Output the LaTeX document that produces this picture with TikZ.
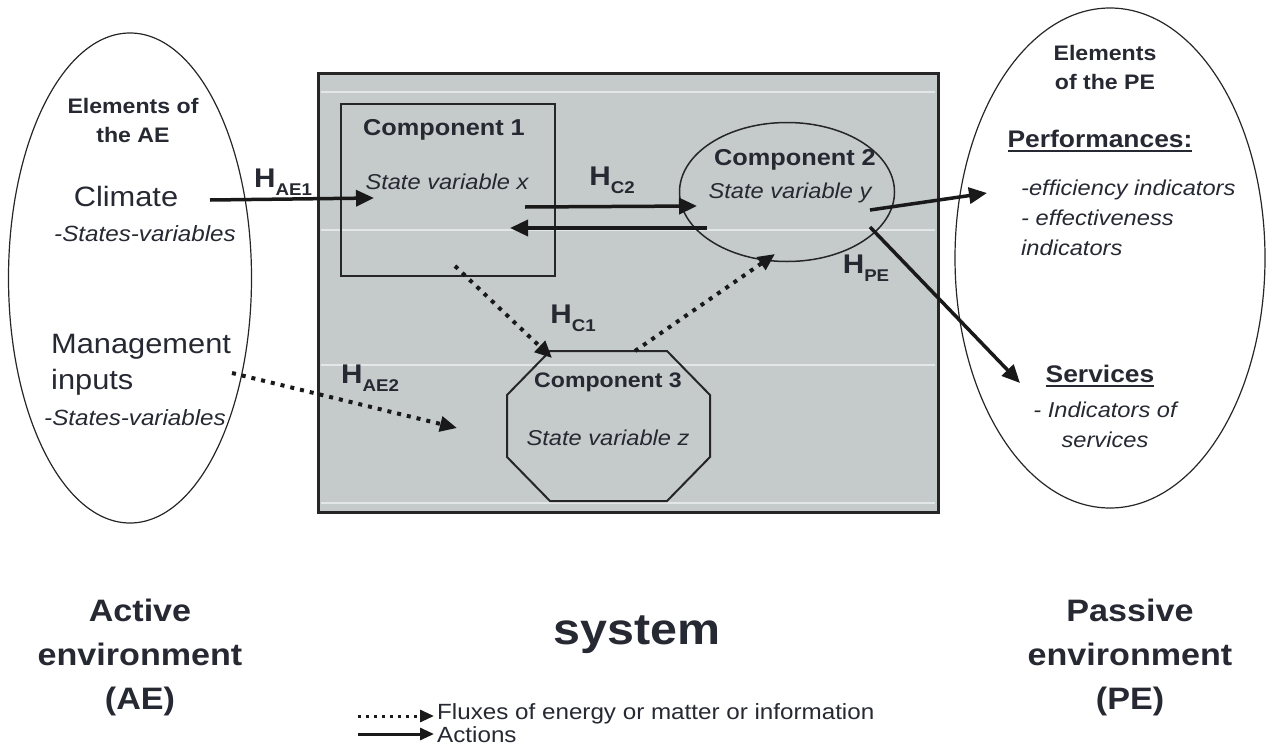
\documentclass[tikz,border=0pt]{standalone}
\usepackage{fontspec}
\setmainfont{Liberation Sans}[FakeStretch=1.1]
\usetikzlibrary{shapes.geometric,arrows.meta}
\definecolor{ink}{RGB}{38,40,50}
\definecolor{sysgray}{RGB}{196,203,202}
\newcommand{\hlab}[1]{H\raisebox{-0.3em}{\fontsize{17}{17}\selectfont #1}}
\newcommand{\ulword}[1]{\setbox0\hbox{#1}\rlap{\rule[-4pt]{\wd0}{1.8pt}}\box0}

\begin{document}
\begin{tikzpicture}[x=1pt,y=-1pt,
    txt/.style={inner sep=0pt,text=ink,align=center},
    bigtxt/.style={txt,font=\fontsize{28}{36}\selectfont},
    head/.style={txt,font=\fontsize{21}{29}\selectfont\bfseries},
    compname/.style={txt,font=\fontsize{23}{28}\selectfont\bfseries},
    var/.style={txt,font=\fontsize{21.5}{30}\selectfont\itshape},
    hname/.style={txt,font=\fontsize{27}{27}\selectfont\bfseries},
    envname/.style={txt,font=\fontsize{31}{44}\selectfont\bfseries},
    legend/.style={txt,font=\fontsize{22}{22}\selectfont},
    act/.style={line width=3.5pt,draw=black!90,-{Triangle[length=18pt,width=16pt]}},
    flux/.style={line width=4pt,draw=black!90,dash pattern=on 4pt off 6pt,-{Triangle[length=17pt,width=15pt]}}]
    \useasboundingbox (0,0) rectangle (1268,747);
    % the system
    \node[draw=black!85,line width=3pt,fill=sysgray,minimum width=620pt,minimum height=439pt,inner sep=0pt] (sys) at (628,292.5) {};
    \foreach \y in {92,230,365,503}
        \draw[white,opacity=0.55,line width=1.5pt] (321,\y) -- (935,\y);
    % components
    \node[draw=black!85,line width=2pt,minimum width=214pt,minimum height=172pt,inner sep=0pt] (comp1) at (448,190) {};
    \node[compname] (c1name) at (444,130) {Component 1};
    \node[var] (c1var) at (447,182) {State variable x};
    \node[draw=black!85,line width=1.5pt,ellipse,minimum width=215pt,minimum height=139pt,inner sep=0pt] (comp2) at (787,192) {};
    \node[compname] (c2name) at (795,160) {Component 2};
    \node[var] (c2var) at (790,193) {State variable y};
    \draw[black!85,line width=2pt] (550,351) -- (667,351) -- (710,395) -- (710,457) -- (667,501) -- (550,501) -- (507,457) -- (507,395) -- cycle;
    \node[compname,font=\fontsize{21}{26}\selectfont\bfseries] (c3name) at (608,382) {Component 3};
    \node[var] (c3var) at (608,438) {State variable z};
    % active environment
    \node[draw=black!85,line width=1.2pt,ellipse,minimum width=243pt,minimum height=490pt,inner sep=0pt] (ae) at (130,278) {};
    \node[head] (aehead) at (133,120) {Elements of\\the AE};
    \node[bigtxt] (climate) at (126,196) {Climate};
    \node[var,font=\fontsize{22}{22}\selectfont\itshape] (climvar) at (145,234) {-States-variables};
    \node[bigtxt,align=left,anchor=west] (mgmt) at (51,365) {Management\\inputs};
    \node[var,font=\fontsize{22}{22}\selectfont\itshape] (mgmtvar) at (135,418) {-States-variables};
    % passive environment
    \node[draw=black!85,line width=1.2pt,ellipse,minimum width=310pt,minimum height=500pt,inner sep=0pt] (pe) at (1110,258) {};
    \node[head] (pehead) at (1105,67) {Elements\\of the PE};
    \node[txt,font=\fontsize{24}{24}\selectfont\bfseries] (perf) at (1100,141) {\ulword{Performances:}};
    \node[var,align=left,anchor=west] (perfind) at (1021,218) {-efficiency indicators\\- effectiveness\\indicators};
    \node[txt,font=\fontsize{24}{24}\selectfont\bfseries] (serv) at (1100,376) {\ulword{Services}};
    \node[var] (servind) at (1105,425) {- Indicators of\\services};
    % arrow ends
    \coordinate (climout) at (210,200);
    \coordinate (c1in) at (374,198);
    \coordinate (c1out) at (525,207);
    \coordinate (c2in) at (697,206);
    \coordinate (c2back) at (707,228);
    \coordinate (c1back) at (510,228);
    \coordinate (c2outa) at (870,210);
    \coordinate (perfin) at (987,193);
    \coordinate (c2outb) at (870,227);
    \coordinate (servin) at (1020,383);
    \coordinate (c1low) at (455,266);
    \coordinate (c3in) at (552,358);
    \coordinate (c3out) at (635,351);
    \coordinate (c2low) at (775,254);
    \coordinate (mgmtout) at (232,373);
    \coordinate (c3side) at (457,428);
    % actions
    \draw[act] (climout) -- (c1in);
    \draw[act] (c1out) -- (c2in);
    \draw[act] (c2back) -- (c1back);
    \draw[act] (c2outa) -- (perfin);
    \draw[act] (c2outb) -- (servin);
    % fluxes
    \draw[flux] (c1low) -- (c3in);
    \draw[flux] (c3out) -- (c2low);
    \draw[flux] (mgmtout) -- (c3side);
    % labels
    \node[hname] (hae1) at (283,182) {\hlab{AE1}};
    \node[hname] (hc2) at (612,180) {\hlab{C2}};
    \node[hname] (hpe) at (866,268) {\hlab{PE}};
    \node[hname] (hc1) at (573,318) {\hlab{C1}};
    \node[hname] (hae2) at (370,378) {\hlab{AE2}};
    \node[envname] (aelab) at (140,657) {Active\\environment\\(AE)};
    \node[txt,font=\fontsize{44}{44}\selectfont\bfseries] (syslab) at (637,635) {system};
    \node[envname] (pelab) at (1130,657) {Passive\\environment\\(PE)};
    % legend
    \coordinate (lf0) at (358,716);
    \coordinate (lf1) at (434,716);
    \coordinate (la0) at (358,734);
    \coordinate (la1) at (434,734);
    \draw[flux,line width=3pt,dash pattern=on 3pt off 5pt,-{Triangle[length=14pt,width=12pt]}] (lf0) -- (lf1);
    \draw[act,line width=3pt,-{Triangle[length=14pt,width=12pt]}] (la0) -- (la1);
    \node[legend,anchor=west] (lfluxes) at (437,714) {Fluxes of energy or matter or information};
    \node[legend,anchor=west] (lactions) at (437,735) {Actions};
\end{tikzpicture}
\end{document}
